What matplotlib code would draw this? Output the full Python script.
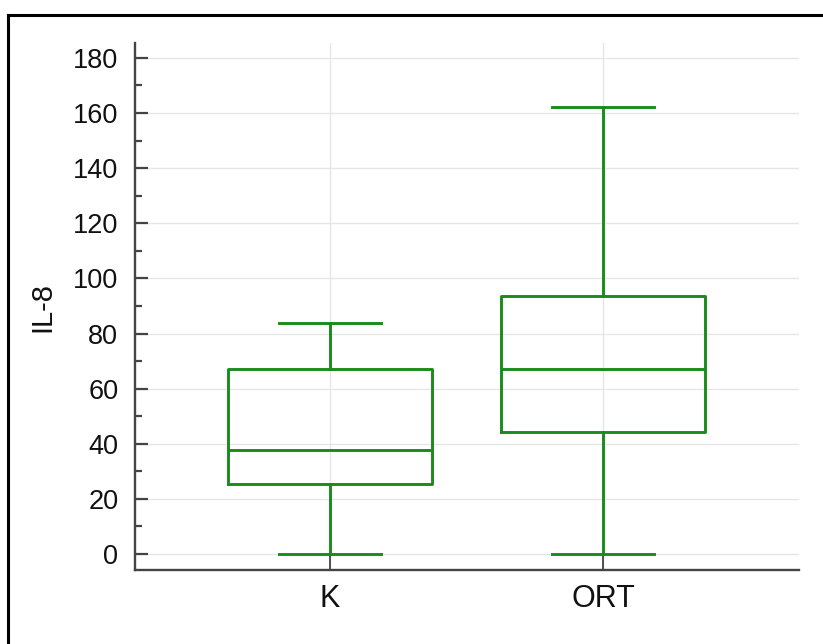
import matplotlib
matplotlib.use("Agg")
import matplotlib.pyplot as plt
from matplotlib.lines import Line2D

categories = ["K", "ORT"]
whislo = [0.0, 0.0]
q1 = [25.5, 44.2]
med = [37.9, 67.2]
q3 = [67.2, 93.6]
whishi = [83.8, 162.1]
y_ticks = [0, 20, 40, 60, 80, 100, 120, 140, 160, 180]
y_label = "IL-8"

plt.rcParams['font.family'] = ['Liberation Sans', 'DejaVu Sans']

fig = plt.figure(figsize=(8.23, 6.44), dpi=100)
ax = fig.add_axes([135/823, 1-570/644, (799-135)/823, (570-43)/644])

green = "#1a8c1a"
stats = []
for i, c in enumerate(categories):
    stats.append(dict(label=c, whislo=whislo[i], q1=q1[i], med=med[i],
                      q3=q3[i], whishi=whishi[i], fliers=[]))
lw = 2.1
ax.bxp(stats, positions=[1, 2], widths=0.75, showfliers=False,
       boxprops=dict(color=green, linewidth=lw),
       medianprops=dict(color=green, linewidth=lw),
       whiskerprops=dict(color=green, linewidth=lw),
       capprops=dict(color=green, linewidth=lw),
       capwidths=0.375, zorder=3)

ax.set_xlim(0.286, 2.718)
ax.set_ylim(-5.8, 185.4)
ax.set_yticks(y_ticks)
ax.set_yticks(range(10, 180, 20), minor=True)
ax.set_xticks([1, 2])
ax.set_xticklabels(categories)

ax.grid(True, which='major', color='#e6e6e6', linewidth=1.0, zorder=0)
ax.set_axisbelow(True)

for s in ['top', 'right']:
    ax.spines[s].set_visible(False)
for s in ['left', 'bottom']:
    ax.spines[s].set_color('#444444')
    ax.spines[s].set_linewidth(1.7)

ax.tick_params(axis='y', which='major', direction='in', length=9.5, width=1.6,
               color='#444444', labelsize=19.5, pad=12, labelcolor='#111111')
ax.tick_params(axis='y', which='minor', direction='in', length=5, width=1.6,
               color='#444444')
ax.tick_params(axis='x', which='major', direction='in', length=11, width=1.3,
               color='#444444', labelsize=22, pad=10, labelcolor='#111111')
ax.set_ylabel(y_label, fontsize=21, labelpad=12, color='#111111')

# outer frame (top and left edges visible)
fig.add_artist(Line2D([8/823, 1.0], [1-15/644, 1-15/644], color='black',
                      linewidth=2.2, transform=fig.transFigure))
fig.add_artist(Line2D([8/823, 8/823], [1-15/644, 0.0], color='black',
                      linewidth=2.2, transform=fig.transFigure))

fig.savefig("out.png", dpi=100, facecolor='white')
